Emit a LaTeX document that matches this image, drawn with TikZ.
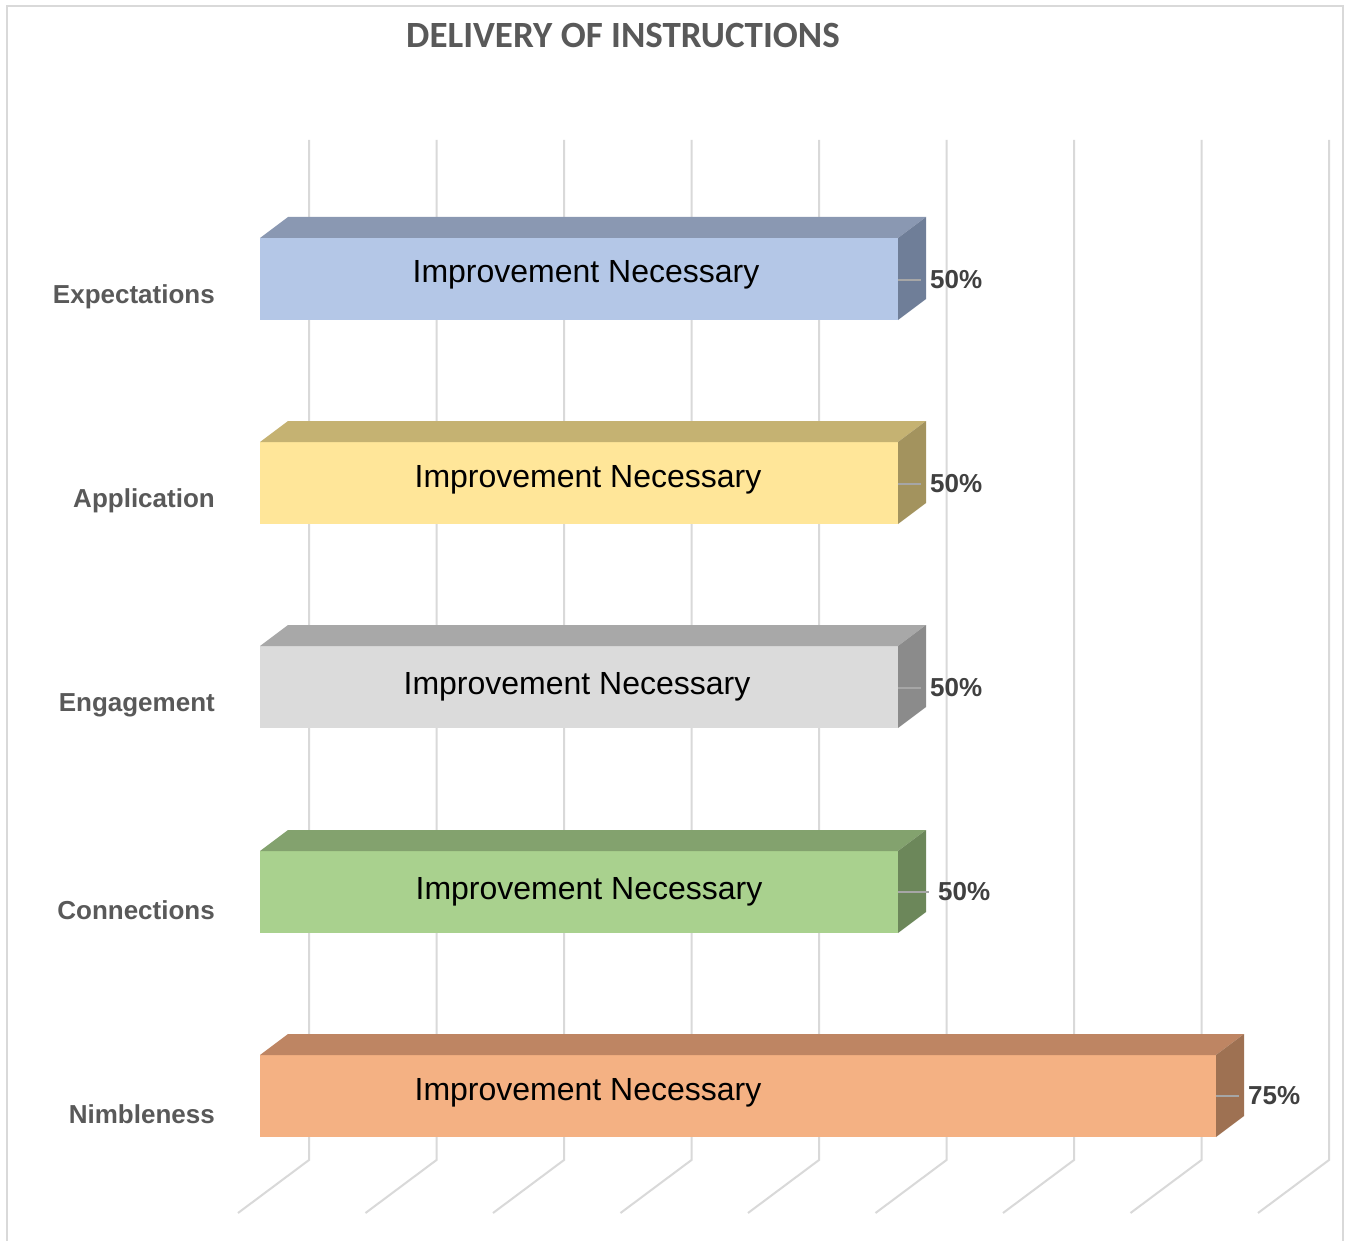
\documentclass[tikz,border=0pt]{standalone}
\usepackage{fontspec}
\setmainfont{Liberation Sans}
\newfontfamily\titlefont{Carlito}

% face colours of the five bars: front / top / side
\definecolor{expF}{HTML}{B4C7E7}\definecolor{expT}{HTML}{8A98B2}\definecolor{expS}{HTML}{6F7E98}
\definecolor{appF}{HTML}{FFE699}\definecolor{appT}{HTML}{C5B272}\definecolor{appS}{HTML}{A3935E}
\definecolor{engF}{HTML}{DBDBDB}\definecolor{engT}{HTML}{A8A8A8}\definecolor{engS}{HTML}{8B8B8B}
\definecolor{conF}{HTML}{A9D18E}\definecolor{conT}{HTML}{83A26E}\definecolor{conS}{HTML}{6C875A}
\definecolor{nimF}{HTML}{F4B183}\definecolor{nimT}{HTML}{BE8563}\definecolor{nimS}{HTML}{9E7152}
\definecolor{gridgray}{HTML}{D9D9D9}
\definecolor{labelgray}{HTML}{595959}
\definecolor{valuegray}{HTML}{404040}
\definecolor{leadergray}{HTML}{A6A6A6}

\begin{document}
\begin{tikzpicture}[x=1pt,y=-1pt,
  frame/.style={draw=gridgray,line width=1.5pt},
  gridline/.style={draw=gridgray,line width=2pt},
  bartext/.style={font=\fontsize{32}{36}\selectfont,text=black,inner sep=0},
  cattext/.style={font=\fontsize{26}{30}\selectfont\bfseries,text=labelgray,anchor=east,inner sep=0},
  valtext/.style={font=\fontsize{26}{30}\selectfont\bfseries,text=valuegray,anchor=west,inner xsep=9pt,inner ysep=0},
  leader/.style={draw=leadergray,line width=2pt},
  titletext/.style={font=\titlefont\fontsize{37}{42}\selectfont\bfseries,text=labelgray}]
\useasboundingbox (0,0) rectangle (1349,1241);
\fill[white] (0,0) rectangle (1349,1241);
\draw[frame] (7,6) rectangle (1343,1260);

\node[titletext] (title) at (623,36) {DELIVERY OF INSTRUCTIONS};

% back-wall gridlines bending onto the floor
\foreach \i in {0,...,8}
  \draw[gridline] ({309+127.5*\i},140) -- ++(0,1020) -- ++(-71,53);

% bars: name / top of front face / right end / text x / text dy / value dy / leader length / value / category
\foreach \n/\yt/\xr/\tx/\tdy/\vdy/\ll/\val/\cat in {
    exp/238/898/586/37/42/23/50\%/Expectations,
    app/442/898/588/38/42/23/50\%/Application,
    eng/646/898/577/41/42/23/50\%/Engagement,
    con/851/898/589/41/41/31/50\%/Connections,
    nim/1055/1216/588/38/41/23/75\%/Nimbleness}{
  \fill[\n F] (260,\yt) rectangle (\xr,\yt+82);
  \fill[\n T] (260,\yt) -- (288,\yt-21) -- (\xr+28,\yt-21) -- (\xr,\yt) -- cycle;
  \fill[\n S] (\xr,\yt) -- (\xr+28,\yt-21) -- (\xr+28,\yt+61) -- (\xr,\yt+82) -- cycle;
  \node[bartext] (\n-text) at (\tx,\yt+\tdy) {Improvement Necessary};
  \coordinate (\n-lead) at (\xr,\yt+\vdy);
  \node[valtext] (\n-val) at (\xr+\ll,\yt+\vdy) {\val};
  \draw[leader] (\n-lead) -- (\n-val.west);
  \node[cattext] (\n-cat) at (215,\yt+59) {\cat};
}
\end{tikzpicture}
\end{document}
